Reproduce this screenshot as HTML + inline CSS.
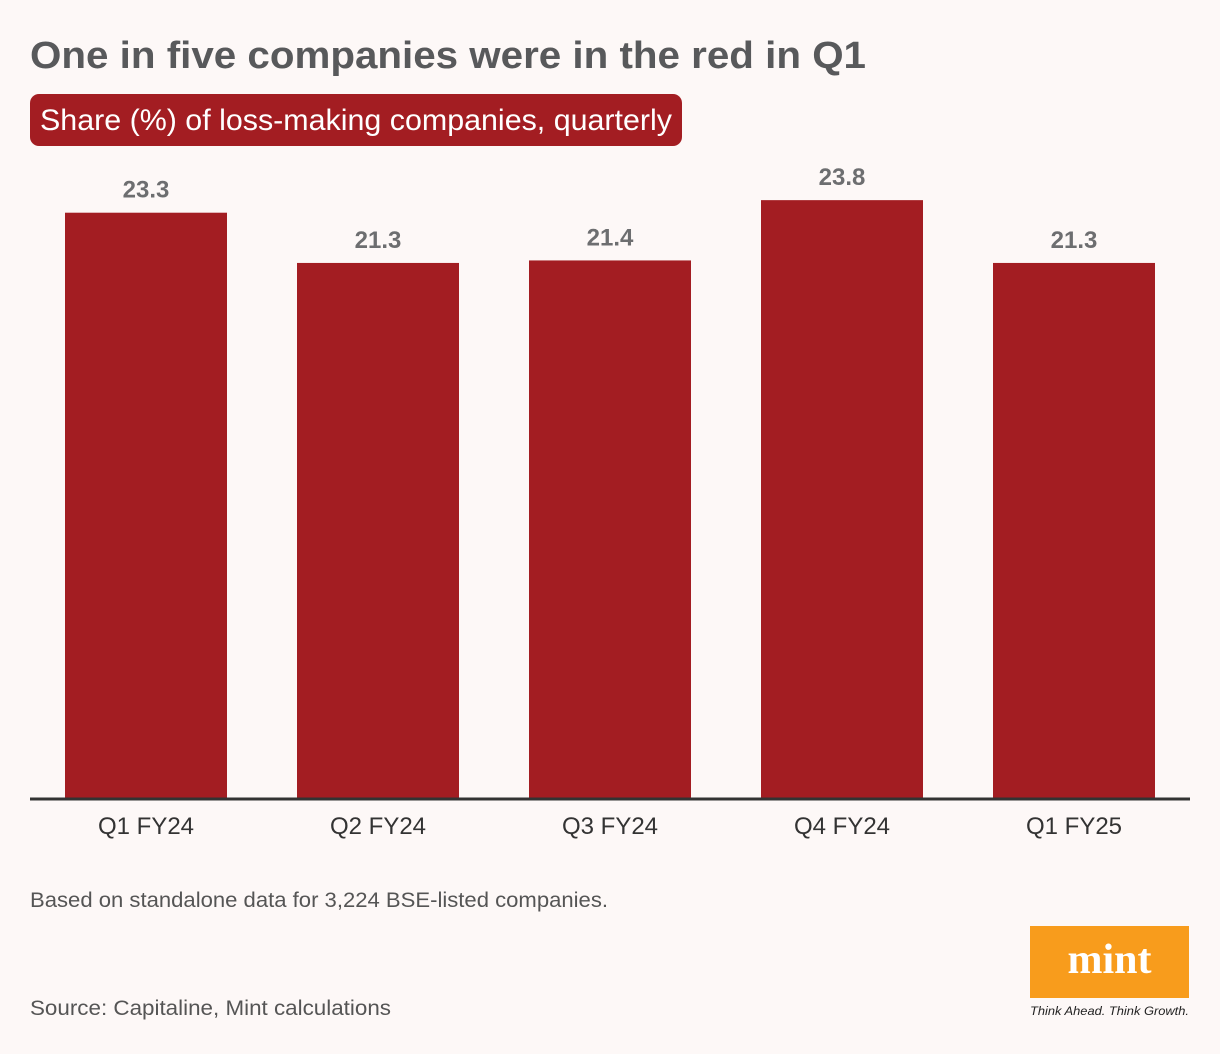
<!DOCTYPE html>
<html><head><meta charset="utf-8"><style>
html,body{margin:0;padding:0;background:#fdf8f7;}
svg{display:block;font-family:"Liberation Sans",sans-serif;}
</style></head><body>
<svg id="chart" width="1220" height="1054" viewBox="0 0 1220 1054">
<rect width="1220" height="1054" fill="#fdf8f7"/>
<text x="30" y="68" font-size="38" font-weight="bold" fill="#58595b" textLength="836" lengthAdjust="spacingAndGlyphs">One in five companies were in the red in Q1</text>
<rect x="30" y="94" width="652" height="52" rx="9" fill="#a31d22"/>
<text x="40" y="130" font-size="30" fill="#ffffff" textLength="632" lengthAdjust="spacingAndGlyphs">Share (%) of loss-making companies,   quarterly</text>
<g id="bars"></g>
<line x1="30" y1="799" x2="1190" y2="799" stroke="#333" stroke-width="3"/>
<text x="30" y="907" font-size="21" fill="#555" textLength="578" lengthAdjust="spacingAndGlyphs">Based on standalone data for 3,224 BSE-listed companies.</text>
<text x="30" y="1015" font-size="21" fill="#555" textLength="361" lengthAdjust="spacingAndGlyphs">Source: Capitaline, Mint calculations</text>
<g>
<rect x="1030" y="926" width="159" height="72" fill="#f89c1c"/>
<text x="1109.5" y="973" font-size="42" font-weight="bold" fill="#fff" text-anchor="middle" font-family="Liberation Serif,serif">mint</text>
<text x="1030" y="1015" font-size="12" font-style="italic" fill="#222" textLength="159" lengthAdjust="spacingAndGlyphs">Think Ahead. Think Growth.</text>
</g>
</svg>
<script>
const categories = ["Q1 FY24","Q2 FY24","Q3 FY24","Q4 FY24","Q1 FY25"];
const values = [23.3,21.3,21.4,23.8,21.3];
const labels = ["23.3","21.3","21.4","23.8","21.3"];
const NS="http://www.w3.org/2000/svg";
const base=798, pxPerUnit=25.12;
function y(v){return base - v*pxPerUnit;}
function xc(i){return 146 + i*232;}
const g=document.getElementById('bars');
categories.forEach((c,i)=>{
  const r=document.createElementNS(NS,'rect');
  r.setAttribute('x',xc(i)-81);r.setAttribute('width',162);
  r.setAttribute('y',y(values[i]));r.setAttribute('height',base-y(values[i]));
  r.setAttribute('fill','#a31d22');
  
  
  g.appendChild(r);
  const t=document.createElementNS(NS,'text');
  t.setAttribute('x',xc(i));t.setAttribute('y',y(values[i])-15);
  t.setAttribute('text-anchor','middle');t.setAttribute('font-size','24');
  t.setAttribute('font-weight','bold');t.setAttribute('fill','#6d6e70');
  t.textContent=labels[i];
  
  
  g.appendChild(t);
  const a=document.createElementNS(NS,'text');
  a.setAttribute('x',xc(i));a.setAttribute('y',834);
  a.setAttribute('text-anchor','middle');a.setAttribute('font-size','24');
  a.setAttribute('fill','#333');
  a.textContent=c;
  
  
  g.appendChild(a);
});
</script>
</body></html>
